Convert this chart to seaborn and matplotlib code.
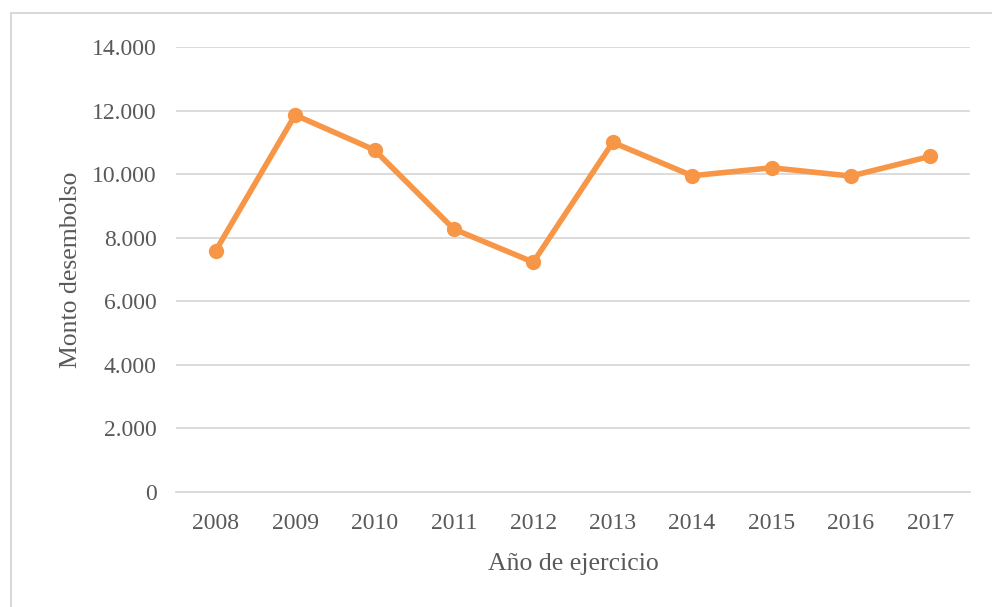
import matplotlib
matplotlib.use("Agg")
import matplotlib.pyplot as plt
import seaborn as sns
from matplotlib.lines import Line2D
from matplotlib.ticker import FuncFormatter

years = [2008, 2009, 2010, 2011, 2012, 2013, 2014, 2015, 2016, 2017]
montos = [7590, 11860, 10760, 8270, 7230, 11000, 9950, 10200, 9940, 10560]
y_ticks = [0, 2000, 4000, 6000, 8000, 10000, 12000, 14000]

sns.set_theme(style="white")
plt.rcParams["font.family"] = ["Liberation Serif", "DejaVu Serif"]

text_color = "#595959"
grid_color = "#D9D9D9"
line_color = "#F79646"

fig = plt.figure(figsize=(9.92, 6.07), dpi=100)
ax = fig.add_axes([176 / 992, 1 - 492 / 607, 794 / 992, 445 / 607])

sns.lineplot(x=years, y=montos, ax=ax, color=line_color, linewidth=4,
             marker="o", markersize=11, markeredgewidth=0, zorder=3)

ax.set_xlim(2007.5, 2017.5)
ax.set_ylim(0, 14000)
ax.set_xticks(years)
ax.set_xticklabels([str(y) for y in years])
ax.set_yticks(y_ticks)
ax.yaxis.set_major_formatter(FuncFormatter(lambda v, _: f"{v:,.0f}".replace(",", ".")))

ax.grid(axis="y", color=grid_color, linewidth=1.3)
ax.grid(axis="x", visible=False)
ax.set_axisbelow(True)
for side in ["top", "right", "left"]:
    ax.spines[side].set_visible(False)
ax.spines["bottom"].set_color(grid_color)
ax.spines["bottom"].set_linewidth(1.3)

ax.tick_params(axis="both", length=0, labelsize=17, labelcolor=text_color)
ax.tick_params(axis="y", pad=14)
ax.tick_params(axis="x", pad=15)

ax.set_xlabel("Año de ejercicio", fontsize=18.5, color=text_color, labelpad=14)
ax.set_ylabel("Monto desembolso", fontsize=18.5, color=text_color, labelpad=7)

# outer chart border (only left and top visible in the frame)
fig.add_artist(Line2D([11 / 992, 11 / 992], [0, 1 - 13 / 607],
                      transform=fig.transFigure, color=grid_color, linewidth=1.5))
fig.add_artist(Line2D([11 / 992, 1], [1 - 13 / 607, 1 - 13 / 607],
                      transform=fig.transFigure, color=grid_color, linewidth=1.5))

fig.savefig("out.png", dpi=100, facecolor="white")
